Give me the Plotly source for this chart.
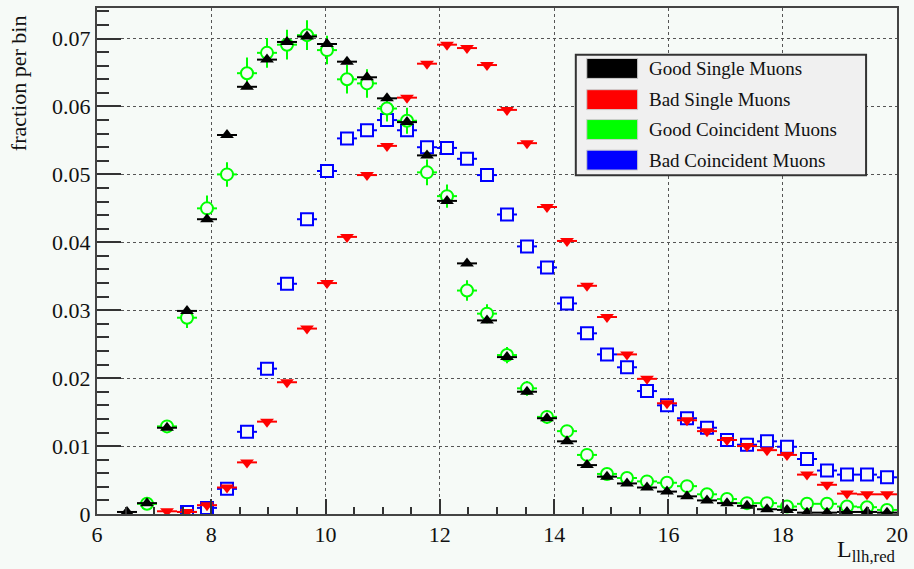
import plotly.graph_objects as go

# ---- data ----
bin_centers = [6.175, 6.525, 6.875, 7.225, 7.575, 7.925, 8.275, 8.625, 8.975, 9.325,
               9.675, 10.025, 10.375, 10.725, 11.075, 11.425, 11.775, 12.125, 12.475, 12.825,
               13.175, 13.525, 13.875, 14.225, 14.575, 14.925, 15.275, 15.625, 15.975, 16.325,
               16.675, 17.025, 17.375, 17.725, 18.075, 18.425, 18.775, 19.125, 19.475, 19.825]
half_bin = 0.175

good_single = [None, 0.0003, 0.0016, 0.0127, 0.0299, 0.0434, 0.0558, 0.0629, 0.0669, 0.0695,
               0.0703, 0.0692, 0.0666, 0.0643, 0.0612, 0.0577, 0.0528, 0.0461, 0.0369, 0.0285,
               0.0231, 0.0180, 0.0141, 0.0107, 0.0072, 0.0055, 0.0045, 0.0039, 0.0033, 0.0026,
               0.0020, 0.0016, 0.0012, 0.0007, 0.0006, 0.0002, 0.0002, 0.0003, 0.0003, 0.0002]

bad_single = [None, None, None, 0.0004, 0.0003, 0.0013, 0.0039, 0.0076, 0.0136, 0.0194,
              0.0273, 0.0340, 0.0408, 0.0499, 0.0542, 0.0613, 0.0663, 0.0691, 0.0686, 0.0661,
              0.0595, 0.0546, 0.0452, 0.0402, 0.0336, 0.0290, 0.0235, 0.0199, 0.0163, 0.0138,
              0.0122, 0.0109, 0.0100, 0.0094, 0.0087, 0.0058, 0.0043, 0.0030, 0.0029, 0.0029]

good_coinc = [None, None, 0.0015, 0.0129, 0.0289, 0.0450, 0.0500, 0.0649, 0.0679, 0.0691,
              0.0705, 0.0683, 0.0640, 0.0634, 0.0597, 0.0579, 0.0503, 0.0468, 0.0329, 0.0295,
              0.0234, 0.0185, 0.0143, 0.0122, 0.0087, 0.0059, 0.0053, 0.0048, 0.0046, 0.0041,
              0.0029, 0.0022, 0.0016, 0.0016, 0.0011, 0.0015, 0.0015, 0.0011, 0.0010, 0.0006]
good_coinc_err = [0, 0, 0.0003, 0.0009, 0.0015, 0.0019, 0.0018, 0.0023, 0.0022, 0.0022,
                  0.0022, 0.0021, 0.0021, 0.0021, 0.0019, 0.0019, 0.0019, 0.0017, 0.0015, 0.0014,
                  0.0012, 0.0011, 0.0010, 0.0009, 0.0008, 0.0006, 0.0006, 0.0005, 0.0005, 0.0005,
                  0.0004, 0.0004, 0.0003, 0.0003, 0.0003, 0.0003, 0.0003, 0.0003, 0.0003, 0.0002]

bad_coinc = [None, None, None, None, 0.0003, 0.0009, 0.0037, 0.0121, 0.0214, 0.0339,
             0.0434, 0.0505, 0.0553, 0.0565, 0.0580, 0.0565, 0.0540, 0.0539, 0.0523, 0.0499,
             0.0441, 0.0394, 0.0363, 0.0310, 0.0266, 0.0235, 0.0216, 0.0181, 0.0160, 0.0141,
             0.0127, 0.0109, 0.0102, 0.0107, 0.0099, 0.0081, 0.0064, 0.0058, 0.0058, 0.0054]

series_names = ["Good Single Muons", "Bad Single Muons", "Good Coincident Muons", "Bad Coincident Muons"]
series_colors = ["#000000", "#ff0000", "#00ff00", "#0000ff"]

x_ticks = [6, 8, 10, 12, 14, 16, 18, 20]
y_ticks = [0, 0.01, 0.02, 0.03, 0.04, 0.05, 0.06, 0.07]
y_tick_labels = ["0", "0.01", "0.02", "0.03", "0.04", "0.05", "0.06", "0.07"]

# ---- style ----
BG = "#f6faf7"
FONT = "Liberation Serif, Times New Roman, DejaVu Serif, serif"
TXT = "#111111"
W, H = 914, 569
ML, MR, MT, MB = 97, 15, 6, 55
PW, PH = W - ML - MR, H - MT - MB


def px_x(p):
    return (p - ML) / PW


def px_y(p):
    return (H - MB - p) / PH


fig = go.Figure()

# Bad coincident (blue open squares)
fig.add_trace(go.Scatter(
    x=bin_centers, y=bad_coinc, mode="markers", name=series_names[3],
    marker=dict(symbol="square", size=12, color=BG, line=dict(color=series_colors[3], width=2)),
    error_x=dict(type="constant", value=half_bin, color=series_colors[3], thickness=2, width=0),
    showlegend=False))

# Good coincident (green open circles)
fig.add_trace(go.Scatter(
    x=bin_centers, y=good_coinc, mode="markers", name=series_names[2],
    marker=dict(symbol="circle", size=12, color=BG, line=dict(color=series_colors[2], width=2)),
    error_x=dict(type="constant", value=half_bin, color=series_colors[2], thickness=2, width=0),
    error_y=dict(type="data", array=good_coinc_err, color=series_colors[2], thickness=2, width=0),
    showlegend=False))

# Bad single (red down triangles)
fig.add_trace(go.Scatter(
    x=bin_centers, y=bad_single, mode="markers", name=series_names[1],
    marker=dict(symbol="triangle-down", size=12, color=series_colors[1], line=dict(width=0)),
    error_x=dict(type="constant", value=half_bin, color=series_colors[1], thickness=2, width=0),
    showlegend=False))

# Good single (black up triangles)
fig.add_trace(go.Scatter(
    x=bin_centers, y=good_single, mode="markers", name=series_names[0],
    marker=dict(symbol="triangle-up", size=12, color=series_colors[0], line=dict(width=0)),
    error_x=dict(type="constant", value=half_bin, color=series_colors[0], thickness=2, width=0),
    showlegend=False))

# ---- legend drawn as shapes + text ----
shapes = []
annotations = []
shapes.append(dict(type="rect", xref="paper", yref="paper",
                   x0=px_x(577), x1=px_x(868), y0=px_y(174), y1=px_y(53),
                   fillcolor="#f0f0f0", line=dict(color="#333333", width=2), layer="above"))
row_centers = [66.7, 98.0, 128.0, 158.7]
for name, col, yc in zip(series_names, series_colors, row_centers):
    shapes.append(dict(type="rect", xref="paper", yref="paper",
                       x0=px_x(588), x1=px_x(639), y0=px_y(yc + 10), y1=px_y(yc - 10),
                       fillcolor=col, line=dict(color="#cccccc", width=1), layer="above"))
    annotations.append(dict(text=name, xref="paper", yref="paper", x=px_x(648), y=px_y(yc),
                            xanchor="left", yanchor="middle", showarrow=False,
                            font=dict(family=FONT, size=19, color=TXT)))

# axis titles
annotations.append(dict(text="fraction per bin", xref="paper", yref="paper",
                        x=px_x(19), y=px_y(11), xanchor="center", yanchor="top",
                        textangle=-90, showarrow=False,
                        font=dict(family=FONT, size=22, color=TXT)))
annotations.append(dict(text="L<sub>llh,red</sub>", xref="paper", yref="paper",
                        x=px_x(900), y=px_y(551), xanchor="right", yanchor="middle",
                        showarrow=False, font=dict(family=FONT, size=24, color=TXT)))

fig.update_layout(
    width=W, height=H,
    margin=dict(l=ML, r=MR, t=MT, b=MB),
    paper_bgcolor=BG, plot_bgcolor=BG,
    shapes=shapes, annotations=annotations,
    showlegend=False,
    font=dict(family=FONT, size=22, color=TXT),
)

fig.update_xaxes(
    range=[6, 20], tickvals=x_ticks, ticktext=[str(v) for v in x_ticks],
    ticks="inside", ticklen=15, tickwidth=1.5, tickcolor="#333333",
    minor=dict(ticks="inside", ticklen=7, dtick=0.5, tickwidth=1.5, tickcolor="#333333", showgrid=False),
    showgrid=True, gridcolor="#555555", griddash="dot", gridwidth=1,
    showline=True, linecolor="#444444", linewidth=2, mirror=True,
    zeroline=False, tickfont=dict(family=FONT, size=22, color=TXT),
)
fig.update_yaxes(
    range=[0, 0.0745], tickvals=y_ticks, ticktext=y_tick_labels,
    ticks="inside", ticklen=24, tickwidth=1.5, tickcolor="#333333",
    minor=dict(ticks="inside", ticklen=12, dtick=0.002, tick0=0, tickwidth=1.5, tickcolor="#333333", showgrid=False),
    showgrid=True, gridcolor="#555555", griddash="dot", gridwidth=1,
    showline=True, linecolor="#444444", linewidth=2, mirror=True,
    zeroline=False, tickfont=dict(family=FONT, size=22, color=TXT),
)

fig.write_html("out.html")
